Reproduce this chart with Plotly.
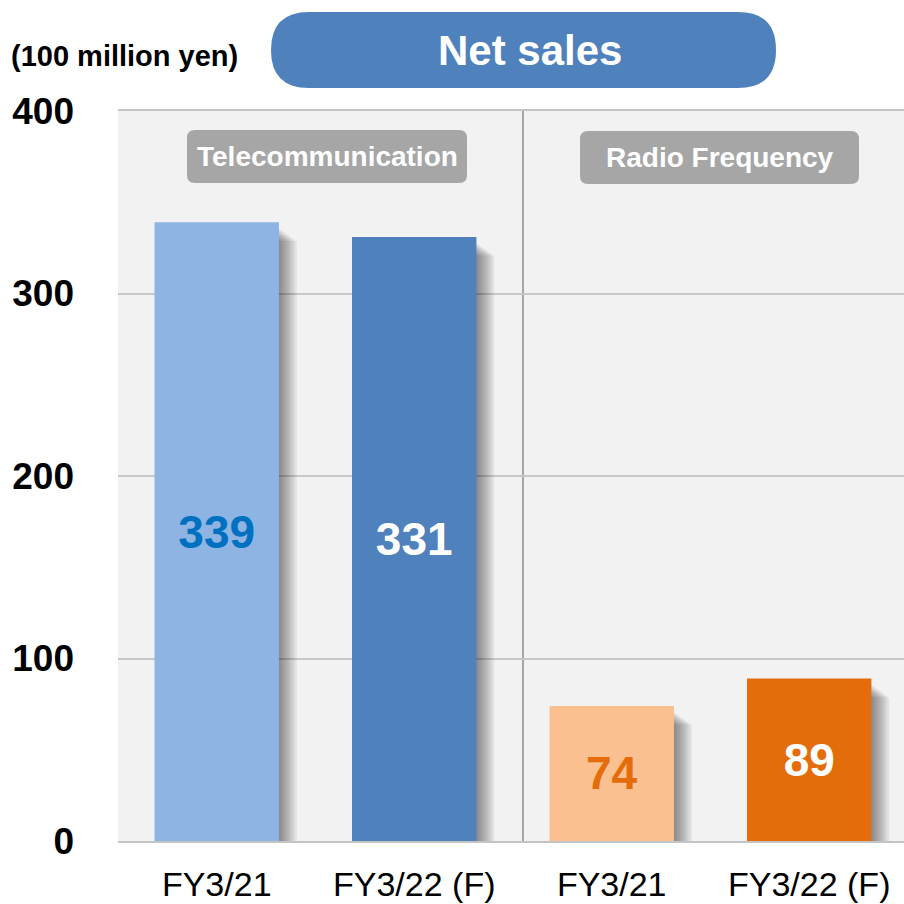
import plotly.graph_objects as go

# data
positions = [0, 1, 2, 3]
labels = ["FY3/21", "FY3/22 (F)", "FY3/21", "FY3/22 (F)"]
sales = [339, 331, 74, 89]
bar_colors = ["#8eb4e3", "#4f81bd", "#fac090", "#e46c0a"]
text_colors = ["#0070c0", "white", "#e46c0a", "white"]
segments = ["Telecommunication", "Radio Frequency"]
y_ticks = [0, 100, 200, 300, 400]

FONT = "Liberation Sans, Arial, sans-serif"
W, H = 904, 904
L, R, T, B = 118, 0, 111, 63
PW, PH = W - L - R, H - T - B
BAR_W = 0.63
X_MAX = 3.48
CAT_PX = PW / (X_MAX + 0.5)


def px(x):
    return (x - L) / PW


def py(y):
    return (H - B - y) / PH


def rounded_rect(x0, y0, x1, y1, r):
    """SVG path (paper coords) for a rounded rectangle given in pixels."""
    pts = [
        ("M", [(x0 + r, y0)]),
        ("L", [(x1 - r, y0)]),
        ("Q", [(x1, y0), (x1, y0 + r)]),
        ("L", [(x1, y1 - r)]),
        ("Q", [(x1, y1), (x1 - r, y1)]),
        ("L", [(x0 + r, y1)]),
        ("Q", [(x0, y1), (x0, y1 - r)]),
        ("L", [(x0, y0 + r)]),
        ("Q", [(x0, y0), (x0 + r, y0)]),
    ]
    path = ""
    for cmd, coords in pts:
        path += cmd + " ".join(f"{px(a):.5f},{py(b):.5f}" for a, b in coords) + " "
    return path + "Z"


fig = go.Figure()

# soft drop shadow to the right of each bar
step = 2 / CAT_PX
for k in range(1, 10):
    fig.add_trace(go.Bar(
        x=positions,
        y=[v - 3 - 0.8 * k for v in sales],
        width=BAR_W,
        offset=-BAR_W / 2 + k * step,
        marker=dict(color="rgba(0,0,0,0.055)", line=dict(width=0)),
        hoverinfo="skip",
    ))

fig.add_trace(go.Bar(
    x=positions,
    y=sales,
    width=BAR_W,
    offset=-BAR_W / 2,
    marker=dict(color=bar_colors, line=dict(width=0)),
    text=[str(v) for v in sales],
    textposition="inside",
    insidetextanchor="middle",
    textangle=0,
    textfont=dict(family=FONT, size=46, color=text_colors, weight="bold"),
))

fig.update_layout(
    width=W,
    height=H,
    barmode="overlay",
    showlegend=False,
    plot_bgcolor="#f2f2f2",
    paper_bgcolor="white",
    margin=dict(l=L, r=R, t=T, b=B),
    font=dict(family=FONT, color="black"),
)
fig.update_xaxes(
    range=[-0.5, X_MAX],
    tickvals=positions,
    ticktext=labels,
    tickfont=dict(size=34),
    showgrid=False,
    showline=True,
    mirror=True,
    linecolor="#c4c4c4",
    linewidth=2,
    ticks="",
    ticklabelstandoff=12,
    automargin=False,
)
fig.update_yaxes(
    range=[0, 400],
    tickvals=y_ticks,
    tickfont=dict(size=37, weight="bold"),
    gridcolor="#c8c8c8",
    gridwidth=2,
    zeroline=False,
    showline=False,
    ticks="",
    ticklabelstandoff=43,
    automargin=False,
)

# divider between segments
fig.add_shape(type="line", xref="paper", yref="paper", x0=px(523), x1=px(523), y0=0, y1=1,
              line=dict(color="#a6a6a6", width=2), layer="below")

# segment label boxes
seg_boxes = [(187, 130, 467, 183), (580, 131, 859, 184)]
for name, (x0, y0, x1, y1) in zip(segments, seg_boxes):
    fig.add_shape(type="path", xref="paper", yref="paper",
                  path=rounded_rect(x0, y0, x1, y1, 8),
                  fillcolor="#a6a6a6", line=dict(width=0))
    fig.add_annotation(xref="paper", yref="paper", x=px((x0 + x1) / 2), y=py((y0 + y1) / 2),
                       xanchor="center", yanchor="middle",
                       text=name, showarrow=False,
                       font=dict(size=28, color="white", weight="bold"))

# title pill
fig.add_shape(type="path", xref="paper", yref="paper",
              path=rounded_rect(271, 12, 776, 88, 38),
              fillcolor="#4f81bd", line=dict(width=0))
fig.add_annotation(xref="paper", yref="paper", x=px(530), y=py(51),
                   xanchor="center", yanchor="middle",
                   text="Net sales", showarrow=False,
                   font=dict(size=42, color="white", weight="bold"))

# unit label
fig.add_annotation(xref="paper", yref="paper", x=px(9), y=py(56),
                   xanchor="left", yanchor="middle",
                   text="(100 million yen)", showarrow=False,
                   font=dict(size=29, color="black", weight="bold"))

fig.write_html(
    "out.html",
    config={"displayModeBar": False},
    post_script="document.body.style.margin='0';document.body.style.overflow='hidden';",
)
